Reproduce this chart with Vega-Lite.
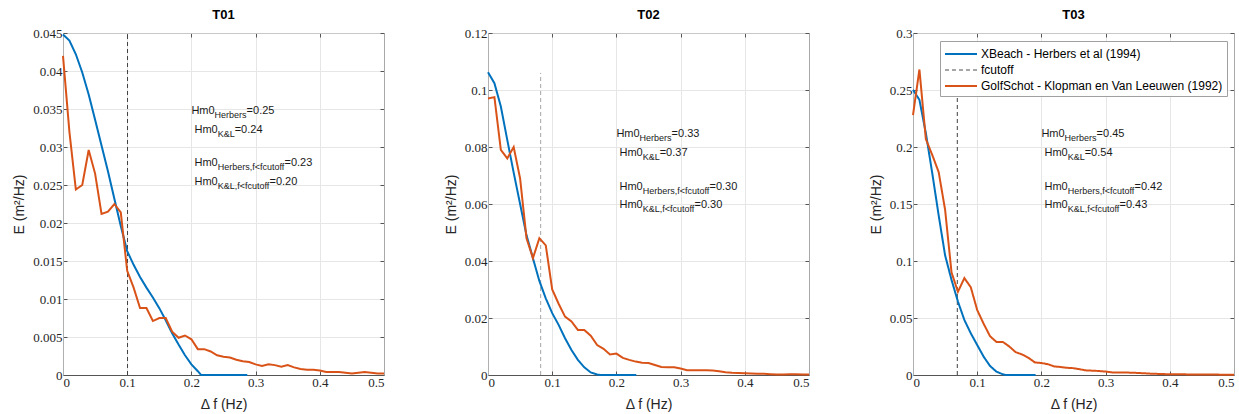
{
  "$schema": "https://vega.github.io/schema/vega-lite/v6.json",
  "padding": {"left": 12, "top": 8, "right": 0, "bottom": 0},
  "background": "#ffffff",
  "spacing": 54,
  "resolve": {"scale": {"color": "independent", "strokeDash": "independent"}},
  "config": {
    "view": {"stroke": "#c8c8c8"},
    "axis": {
      "labelFont": "Liberation Serif", "labelFontSize": 13, "labelColor": "#262626",
      "titleFont": "Liberation Sans", "titleFontSize": 14, "titleFontWeight": "normal", "titleColor": "#262626",
      "gridColor": "#e6e6e6", "gridOpacity": 1, "tickColor": "#555555", "tickSize": -4,
      "labelPadding": 5, "domainColor": "#555555"
    },
    "title": {"font": "Liberation Sans", "fontSize": 13, "fontWeight": "bold", "color": "#000000", "offset": 5},
    "legend": {
      "labelFont": "Liberation Sans", "labelFontSize": 12, "labelColor": "#000000", "labelLimit": 0,
      "symbolType": "M-2,0H2", "symbolStrokeWidth": 2, "fillColor": "#ffffff", "strokeColor": "#a0a0a0",
      "padding": 4, "titlePadding": 0, "symbolOffset": 8, "labelOffset": 11, "rowPadding": 1
    }
  },
  "datasets": {
    "T01_xbeach": [
      {"f": 0, "E": 0.0448}, {"f": 0.01, "E": 0.044}, {"f": 0.02, "E": 0.0422}, {"f": 0.03, "E": 0.0398},
      {"f": 0.04, "E": 0.0369}, {"f": 0.05, "E": 0.0336}, {"f": 0.06, "E": 0.0302}, {"f": 0.07, "E": 0.0268},
      {"f": 0.08, "E": 0.0232}, {"f": 0.09, "E": 0.0196}, {"f": 0.1, "E": 0.0163}, {"f": 0.11, "E": 0.0145},
      {"f": 0.12, "E": 0.0129}, {"f": 0.13, "E": 0.0115}, {"f": 0.14, "E": 0.0102}, {"f": 0.15, "E": 0.0088},
      {"f": 0.16, "E": 0.0072}, {"f": 0.17, "E": 0.0055}, {"f": 0.18, "E": 0.004}, {"f": 0.19, "E": 0.0026},
      {"f": 0.2, "E": 0.0014}, {"f": 0.21, "E": 0.0005}, {"f": 0.215, "E": 0}, {"f": 0.25, "E": 0}, {"f": 0.287, "E": 0}
    ],
    "T01_golf": [
      {"f": 0, "E": 0.042}, {"f": 0.01, "E": 0.032}, {"f": 0.02, "E": 0.0244}, {"f": 0.03, "E": 0.025},
      {"f": 0.04, "E": 0.0296}, {"f": 0.05, "E": 0.0265}, {"f": 0.06, "E": 0.0212}, {"f": 0.07, "E": 0.0215},
      {"f": 0.08, "E": 0.0225}, {"f": 0.09, "E": 0.0214}, {"f": 0.1, "E": 0.0137}, {"f": 0.11, "E": 0.0115},
      {"f": 0.12, "E": 0.0088}, {"f": 0.13, "E": 0.0088}, {"f": 0.14, "E": 0.0071}, {"f": 0.15, "E": 0.0075},
      {"f": 0.16, "E": 0.0075}, {"f": 0.17, "E": 0.0057}, {"f": 0.18, "E": 0.0049}, {"f": 0.19, "E": 0.0052},
      {"f": 0.2, "E": 0.0047}, {"f": 0.21, "E": 0.0034}, {"f": 0.22, "E": 0.0034}, {"f": 0.23, "E": 0.0031},
      {"f": 0.24, "E": 0.0026}, {"f": 0.25, "E": 0.0024}, {"f": 0.26, "E": 0.0023}, {"f": 0.27, "E": 0.002},
      {"f": 0.28, "E": 0.0018}, {"f": 0.29, "E": 0.0017}, {"f": 0.3, "E": 0.0014}, {"f": 0.31, "E": 0.0012},
      {"f": 0.32, "E": 0.0014}, {"f": 0.33, "E": 0.0013}, {"f": 0.34, "E": 0.0011}, {"f": 0.35, "E": 0.0013},
      {"f": 0.36, "E": 0.001}, {"f": 0.37, "E": 0.0008}, {"f": 0.38, "E": 0.0007}, {"f": 0.39, "E": 0.0007},
      {"f": 0.4, "E": 0.0006}, {"f": 0.41, "E": 0.0004}, {"f": 0.42, "E": 0.0004}, {"f": 0.43, "E": 0.0004},
      {"f": 0.44, "E": 0.0003}, {"f": 0.45, "E": 0.0002}, {"f": 0.46, "E": 0.0003}, {"f": 0.47, "E": 0.0004},
      {"f": 0.48, "E": 0.0003}, {"f": 0.49, "E": 0.0002}, {"f": 0.5, "E": 0.0002}
    ],
    "T01_cut": [{"f": 0.1005, "E": 0}, {"f": 0.1005, "E": 0.045}],
    "T02_xbeach": [
      {"f": 0, "E": 0.1062}, {"f": 0.01, "E": 0.1024}, {"f": 0.02, "E": 0.0942}, {"f": 0.03, "E": 0.0825},
      {"f": 0.04, "E": 0.071}, {"f": 0.05, "E": 0.06}, {"f": 0.06, "E": 0.049}, {"f": 0.07, "E": 0.041},
      {"f": 0.08, "E": 0.033}, {"f": 0.09, "E": 0.0269}, {"f": 0.1, "E": 0.0217}, {"f": 0.11, "E": 0.0176},
      {"f": 0.12, "E": 0.0129}, {"f": 0.13, "E": 0.0088}, {"f": 0.14, "E": 0.0053}, {"f": 0.15, "E": 0.0027},
      {"f": 0.16, "E": 0.0009}, {"f": 0.17, "E": 0.0002}, {"f": 0.175, "E": 0}, {"f": 0.231, "E": 0}
    ],
    "T02_golf": [
      {"f": 0, "E": 0.097}, {"f": 0.01, "E": 0.0975}, {"f": 0.02, "E": 0.079}, {"f": 0.03, "E": 0.076},
      {"f": 0.04, "E": 0.08}, {"f": 0.05, "E": 0.069}, {"f": 0.06, "E": 0.048}, {"f": 0.07, "E": 0.041},
      {"f": 0.08, "E": 0.048}, {"f": 0.09, "E": 0.0455}, {"f": 0.1, "E": 0.03}, {"f": 0.11, "E": 0.025},
      {"f": 0.12, "E": 0.0205}, {"f": 0.13, "E": 0.0188}, {"f": 0.14, "E": 0.0158}, {"f": 0.15, "E": 0.0158},
      {"f": 0.16, "E": 0.0138}, {"f": 0.17, "E": 0.0105}, {"f": 0.18, "E": 0.0092}, {"f": 0.19, "E": 0.0072},
      {"f": 0.2, "E": 0.0075}, {"f": 0.21, "E": 0.006}, {"f": 0.22, "E": 0.0053}, {"f": 0.23, "E": 0.0047},
      {"f": 0.24, "E": 0.0043}, {"f": 0.25, "E": 0.0042}, {"f": 0.26, "E": 0.0035}, {"f": 0.27, "E": 0.0028},
      {"f": 0.28, "E": 0.0027}, {"f": 0.29, "E": 0.0027}, {"f": 0.3, "E": 0.0023}, {"f": 0.31, "E": 0.0017},
      {"f": 0.32, "E": 0.0017}, {"f": 0.33, "E": 0.0017}, {"f": 0.34, "E": 0.0017}, {"f": 0.35, "E": 0.0016},
      {"f": 0.36, "E": 0.0013}, {"f": 0.37, "E": 0.001}, {"f": 0.38, "E": 0.0008}, {"f": 0.39, "E": 0.0007},
      {"f": 0.4, "E": 0.0006}, {"f": 0.41, "E": 0.0005}, {"f": 0.42, "E": 0.0004}, {"f": 0.43, "E": 0.0004},
      {"f": 0.44, "E": 0.0003}, {"f": 0.45, "E": 0.0002}, {"f": 0.46, "E": 0.0002}, {"f": 0.47, "E": 0.0003},
      {"f": 0.48, "E": 0.0003}, {"f": 0.49, "E": 0.0002}, {"f": 0.5, "E": 0.0002}
    ],
    "T02_cut": [{"f": 0.082, "E": 0}, {"f": 0.082, "E": 0.106}],
    "T03_xbeach": [
      {"f": 0, "E": 0.2502}, {"f": 0.01, "E": 0.2414}, {"f": 0.02, "E": 0.2122}, {"f": 0.03, "E": 0.177},
      {"f": 0.04, "E": 0.14}, {"f": 0.05, "E": 0.105}, {"f": 0.06, "E": 0.0834}, {"f": 0.07, "E": 0.0644},
      {"f": 0.08, "E": 0.0483}, {"f": 0.09, "E": 0.0366}, {"f": 0.1, "E": 0.0263}, {"f": 0.11, "E": 0.0161},
      {"f": 0.12, "E": 0.0079}, {"f": 0.13, "E": 0.0029}, {"f": 0.14, "E": 0.0006}, {"f": 0.145, "E": 0}, {"f": 0.191, "E": 0}
    ],
    "T03_golf": [
      {"f": 0, "E": 0.228}, {"f": 0.01, "E": 0.268}, {"f": 0.02, "E": 0.207}, {"f": 0.03, "E": 0.193},
      {"f": 0.04, "E": 0.178}, {"f": 0.05, "E": 0.145}, {"f": 0.06, "E": 0.09}, {"f": 0.07, "E": 0.073},
      {"f": 0.08, "E": 0.085}, {"f": 0.09, "E": 0.077}, {"f": 0.1, "E": 0.057}, {"f": 0.11, "E": 0.045},
      {"f": 0.12, "E": 0.034}, {"f": 0.13, "E": 0.029}, {"f": 0.14, "E": 0.029}, {"f": 0.15, "E": 0.025},
      {"f": 0.16, "E": 0.02}, {"f": 0.17, "E": 0.018}, {"f": 0.18, "E": 0.015}, {"f": 0.19, "E": 0.011},
      {"f": 0.2, "E": 0.0105}, {"f": 0.21, "E": 0.0095}, {"f": 0.22, "E": 0.0075}, {"f": 0.23, "E": 0.007},
      {"f": 0.24, "E": 0.0063}, {"f": 0.25, "E": 0.006}, {"f": 0.26, "E": 0.005}, {"f": 0.27, "E": 0.004},
      {"f": 0.28, "E": 0.0038}, {"f": 0.29, "E": 0.0035}, {"f": 0.3, "E": 0.003}, {"f": 0.31, "E": 0.0023},
      {"f": 0.32, "E": 0.0022}, {"f": 0.33, "E": 0.0022}, {"f": 0.34, "E": 0.002}, {"f": 0.35, "E": 0.0018},
      {"f": 0.36, "E": 0.0015}, {"f": 0.37, "E": 0.0012}, {"f": 0.38, "E": 0.001}, {"f": 0.39, "E": 0.0008},
      {"f": 0.4, "E": 0.0007}, {"f": 0.41, "E": 0.0006}, {"f": 0.42, "E": 0.0006}, {"f": 0.43, "E": 0.0005},
      {"f": 0.44, "E": 0.0005}, {"f": 0.45, "E": 0.0004}, {"f": 0.46, "E": 0.0004}, {"f": 0.47, "E": 0.0004},
      {"f": 0.48, "E": 0.0003}, {"f": 0.49, "E": 0.0003}, {"f": 0.5, "E": 0.0003}
    ],
    "T03_cut": [{"f": 0.069, "E": 0}, {"f": 0.069, "E": 0.268}],
    "ann": [
      {"panel": "T01", "line": 1, "x": 0.2, "y": 0.0343, "main": "Hm0", "sub": "Herbers", "val": "=0.25"},
      {"panel": "T01", "line": 2, "x": 0.2, "y": 0.0318, "main": "Hm0", "sub": "K&L", "val": "=0.24"},
      {"panel": "T01", "line": 3, "x": 0.2, "y": 0.0275, "main": "Hm0", "sub": "Herbers,f<fcutoff", "val": "=0.23"},
      {"panel": "T01", "line": 4, "x": 0.2, "y": 0.025, "main": "Hm0", "sub": "K&L,f<fcutoff", "val": "=0.20"},
      {"panel": "T02", "line": 1, "x": 0.2, "y": 0.0834, "main": "Hm0", "sub": "Herbers", "val": "=0.33"},
      {"panel": "T02", "line": 2, "x": 0.2, "y": 0.0767, "main": "Hm0", "sub": "K&L", "val": "=0.37"},
      {"panel": "T02", "line": 3, "x": 0.2, "y": 0.065, "main": "Hm0", "sub": "Herbers,f<fcutoff", "val": "=0.30"},
      {"panel": "T02", "line": 4, "x": 0.2, "y": 0.0585, "main": "Hm0", "sub": "K&L,f<fcutoff", "val": "=0.30"},
      {"panel": "T03", "line": 1, "x": 0.2, "y": 0.2085, "main": "Hm0", "sub": "Herbers", "val": "=0.45"},
      {"panel": "T03", "line": 2, "x": 0.2, "y": 0.1918, "main": "Hm0", "sub": "K&L", "val": "=0.54"},
      {"panel": "T03", "line": 3, "x": 0.2, "y": 0.1625, "main": "Hm0", "sub": "Herbers,f<fcutoff", "val": "=0.42"},
      {"panel": "T03", "line": 4, "x": 0.2, "y": 0.1462, "main": "Hm0", "sub": "K&L,f<fcutoff", "val": "=0.43"}
    ]
  },
  "hconcat": [
    {
      "width": 321, "height": 342,
      "title": "T01",
      "layer": [
        {"data": {"name": "T01_cut"}, "mark": {"type": "line", "color": "#404040", "strokeWidth": 1, "strokeDash": [4, 3]},
         "encoding": {
           "x": {"field": "f", "type": "quantitative", "scale": {"domain": [0, 0.5], "nice": false}, "axis": {"orient": "bottom", "values": [0, 0.1, 0.2, 0.3, 0.4, 0.5], "format": ".2~g", "title": "Δ f (Hz)", "grid": true, "titlePadding": 8}},
           "y": {"field": "E", "type": "quantitative", "scale": {"domain": [0, 0.045], "nice": false}, "axis": {"orient": "left", "values": [0, 0.005, 0.01, 0.015, 0.02, 0.025, 0.03, 0.035, 0.04, 0.045], "format": ".2~g", "title": "E (m²/Hz)", "grid": true, "domainColor": "#b0b0b0", "titlePadding": 6}}
         }},
        {"data": {"name": "T01_xbeach"}, "mark": {"type": "line", "color": "#0072BD", "strokeWidth": 2},
         "encoding": {
           "x": {"field": "f", "type": "quantitative", "axis": {"orient": "top", "values": [0, 0.1, 0.2, 0.3, 0.4, 0.5], "labels": false, "title": null, "grid": false, "domainColor": "#c8c8c8"}},
           "y": {"field": "E", "type": "quantitative", "axis": {"orient": "right", "values": [0, 0.005, 0.01, 0.015, 0.02, 0.025, 0.03, 0.035, 0.04, 0.045], "labels": false, "title": null, "grid": false, "domainColor": "#a8a8a8"}}
         }},
        {"data": {"name": "T01_golf"}, "mark": {"type": "line", "color": "#D95319", "strokeWidth": 2},
         "encoding": {"x": {"field": "f", "type": "quantitative", "axis": null}, "y": {"field": "E", "type": "quantitative", "axis": null}}},
        {"data": {"name": "ann"}, "transform": [{"filter": "datum.panel === 'T01' && datum.line === 1"}],
         "mark": {"type": "text", "align": "left", "baseline": "alphabetic", "font": "Liberation Sans", "fontSize": 11, "color": "#1a1a1a"},
         "encoding": {"x": {"field": "x", "type": "quantitative", "axis": null}, "y": {"field": "y", "type": "quantitative", "axis": null}, "text": {"field": "main"}}},
        {"data": {"name": "ann"}, "transform": [{"filter": "datum.panel === 'T01' && datum.line > 1"}],
         "mark": {"type": "text", "align": "left", "baseline": "alphabetic", "font": "Liberation Sans", "fontSize": 11, "color": "#1a1a1a", "dx": 3.1},
         "encoding": {"x": {"field": "x", "type": "quantitative", "axis": null}, "y": {"field": "y", "type": "quantitative", "axis": null}, "text": {"field": "main"}}},
        {"data": {"name": "ann"}, "transform": [{"filter": "datum.panel === 'T01' && datum.line === 1"}],
         "mark": {"type": "text", "align": "left", "baseline": "alphabetic", "font": "Liberation Sans", "fontSize": 9, "color": "#1a1a1a", "dx": 23.2, "dy": 4},
         "encoding": {"x": {"field": "x", "type": "quantitative", "axis": null}, "y": {"field": "y", "type": "quantitative", "axis": null}, "text": {"field": "sub"}}},
        {"data": {"name": "ann"}, "transform": [{"filter": "datum.panel === 'T01' && datum.line > 1"}],
         "mark": {"type": "text", "align": "left", "baseline": "alphabetic", "font": "Liberation Sans", "fontSize": 9, "color": "#1a1a1a", "dx": 26.3, "dy": 4},
         "encoding": {"x": {"field": "x", "type": "quantitative", "axis": null}, "y": {"field": "y", "type": "quantitative", "axis": null}, "text": {"field": "sub"}}},
        {"data": {"name": "ann"}, "transform": [{"filter": "datum.panel === 'T01' && datum.line === 1"}],
         "mark": {"type": "text", "align": "left", "baseline": "alphabetic", "font": "Liberation Sans", "fontSize": 11, "color": "#1a1a1a", "dx": 55.2},
         "encoding": {"x": {"field": "x", "type": "quantitative", "axis": null}, "y": {"field": "y", "type": "quantitative", "axis": null}, "text": {"field": "val"}}},
        {"data": {"name": "ann"}, "transform": [{"filter": "datum.panel === 'T01' && datum.line === 2"}],
         "mark": {"type": "text", "align": "left", "baseline": "alphabetic", "font": "Liberation Sans", "fontSize": 11, "color": "#1a1a1a", "dx": 43.3},
         "encoding": {"x": {"field": "x", "type": "quantitative", "axis": null}, "y": {"field": "y", "type": "quantitative", "axis": null}, "text": {"field": "val"}}},
        {"data": {"name": "ann"}, "transform": [{"filter": "datum.panel === 'T01' && datum.line === 3"}],
         "mark": {"type": "text", "align": "left", "baseline": "alphabetic", "font": "Liberation Sans", "fontSize": 11, "color": "#1a1a1a", "dx": 93.1},
         "encoding": {"x": {"field": "x", "type": "quantitative", "axis": null}, "y": {"field": "y", "type": "quantitative", "axis": null}, "text": {"field": "val"}}},
        {"data": {"name": "ann"}, "transform": [{"filter": "datum.panel === 'T01' && datum.line === 4"}],
         "mark": {"type": "text", "align": "left", "baseline": "alphabetic", "font": "Liberation Sans", "fontSize": 11, "color": "#1a1a1a", "dx": 78.1},
         "encoding": {"x": {"field": "x", "type": "quantitative", "axis": null}, "y": {"field": "y", "type": "quantitative", "axis": null}, "text": {"field": "val"}}}
      ]
    },
    {
      "width": 321, "height": 342,
      "title": "T02",
      "layer": [
        {"data": {"name": "T02_cut"}, "mark": {"type": "line", "color": "#a6a6a6", "strokeWidth": 1, "strokeDash": [4, 3]},
         "encoding": {
           "x": {"field": "f", "type": "quantitative", "scale": {"domain": [0, 0.5], "nice": false}, "axis": {"orient": "bottom", "values": [0, 0.1, 0.2, 0.3, 0.4, 0.5], "format": ".2~g", "title": "Δ f (Hz)", "grid": true, "titlePadding": 8}},
           "y": {"field": "E", "type": "quantitative", "scale": {"domain": [0, 0.12], "nice": false}, "axis": {"orient": "left", "values": [0, 0.02, 0.04, 0.06, 0.08, 0.1, 0.12], "format": ".2~g", "title": "E (m²/Hz)", "grid": true, "domainColor": "#b0b0b0", "titlePadding": 6}}
         }},
        {"data": {"name": "T02_xbeach"}, "mark": {"type": "line", "color": "#0072BD", "strokeWidth": 2},
         "encoding": {
           "x": {"field": "f", "type": "quantitative", "axis": {"orient": "top", "values": [0, 0.1, 0.2, 0.3, 0.4, 0.5], "labels": false, "title": null, "grid": false, "domainColor": "#c8c8c8"}},
           "y": {"field": "E", "type": "quantitative", "axis": {"orient": "right", "values": [0, 0.02, 0.04, 0.06, 0.08, 0.1, 0.12], "labels": false, "title": null, "grid": false, "domainColor": "#a8a8a8"}}
         }},
        {"data": {"name": "T02_golf"}, "mark": {"type": "line", "color": "#D95319", "strokeWidth": 2},
         "encoding": {"x": {"field": "f", "type": "quantitative", "axis": null}, "y": {"field": "E", "type": "quantitative", "axis": null}}},
        {"data": {"name": "ann"}, "transform": [{"filter": "datum.panel === 'T02' && datum.line === 1"}],
         "mark": {"type": "text", "align": "left", "baseline": "alphabetic", "font": "Liberation Sans", "fontSize": 11, "color": "#1a1a1a"},
         "encoding": {"x": {"field": "x", "type": "quantitative", "axis": null}, "y": {"field": "y", "type": "quantitative", "axis": null}, "text": {"field": "main"}}},
        {"data": {"name": "ann"}, "transform": [{"filter": "datum.panel === 'T02' && datum.line > 1"}],
         "mark": {"type": "text", "align": "left", "baseline": "alphabetic", "font": "Liberation Sans", "fontSize": 11, "color": "#1a1a1a", "dx": 3.1},
         "encoding": {"x": {"field": "x", "type": "quantitative", "axis": null}, "y": {"field": "y", "type": "quantitative", "axis": null}, "text": {"field": "main"}}},
        {"data": {"name": "ann"}, "transform": [{"filter": "datum.panel === 'T02' && datum.line === 1"}],
         "mark": {"type": "text", "align": "left", "baseline": "alphabetic", "font": "Liberation Sans", "fontSize": 9, "color": "#1a1a1a", "dx": 23.2, "dy": 4},
         "encoding": {"x": {"field": "x", "type": "quantitative", "axis": null}, "y": {"field": "y", "type": "quantitative", "axis": null}, "text": {"field": "sub"}}},
        {"data": {"name": "ann"}, "transform": [{"filter": "datum.panel === 'T02' && datum.line > 1"}],
         "mark": {"type": "text", "align": "left", "baseline": "alphabetic", "font": "Liberation Sans", "fontSize": 9, "color": "#1a1a1a", "dx": 26.3, "dy": 4},
         "encoding": {"x": {"field": "x", "type": "quantitative", "axis": null}, "y": {"field": "y", "type": "quantitative", "axis": null}, "text": {"field": "sub"}}},
        {"data": {"name": "ann"}, "transform": [{"filter": "datum.panel === 'T02' && datum.line === 1"}],
         "mark": {"type": "text", "align": "left", "baseline": "alphabetic", "font": "Liberation Sans", "fontSize": 11, "color": "#1a1a1a", "dx": 55.2},
         "encoding": {"x": {"field": "x", "type": "quantitative", "axis": null}, "y": {"field": "y", "type": "quantitative", "axis": null}, "text": {"field": "val"}}},
        {"data": {"name": "ann"}, "transform": [{"filter": "datum.panel === 'T02' && datum.line === 2"}],
         "mark": {"type": "text", "align": "left", "baseline": "alphabetic", "font": "Liberation Sans", "fontSize": 11, "color": "#1a1a1a", "dx": 43.3},
         "encoding": {"x": {"field": "x", "type": "quantitative", "axis": null}, "y": {"field": "y", "type": "quantitative", "axis": null}, "text": {"field": "val"}}},
        {"data": {"name": "ann"}, "transform": [{"filter": "datum.panel === 'T02' && datum.line === 3"}],
         "mark": {"type": "text", "align": "left", "baseline": "alphabetic", "font": "Liberation Sans", "fontSize": 11, "color": "#1a1a1a", "dx": 93.1},
         "encoding": {"x": {"field": "x", "type": "quantitative", "axis": null}, "y": {"field": "y", "type": "quantitative", "axis": null}, "text": {"field": "val"}}},
        {"data": {"name": "ann"}, "transform": [{"filter": "datum.panel === 'T02' && datum.line === 4"}],
         "mark": {"type": "text", "align": "left", "baseline": "alphabetic", "font": "Liberation Sans", "fontSize": 11, "color": "#1a1a1a", "dx": 78.1},
         "encoding": {"x": {"field": "x", "type": "quantitative", "axis": null}, "y": {"field": "y", "type": "quantitative", "axis": null}, "text": {"field": "val"}}}
      ]
    },
    {
      "width": 321, "height": 342,
      "title": "T03",
      "layer": [
        {"data": {"name": "T03_cut"}, "mark": {"type": "line", "color": "#404040", "strokeWidth": 1, "strokeDash": [4, 3]},
         "encoding": {
           "x": {"field": "f", "type": "quantitative", "scale": {"domain": [0, 0.5], "nice": false}, "axis": {"orient": "bottom", "values": [0, 0.1, 0.2, 0.3, 0.4, 0.5], "format": ".2~g", "title": "Δ f (Hz)", "grid": true, "titlePadding": 8}},
           "y": {"field": "E", "type": "quantitative", "scale": {"domain": [0, 0.3], "nice": false}, "axis": {"orient": "left", "values": [0, 0.05, 0.1, 0.15, 0.2, 0.25, 0.3], "format": ".2~g", "title": "E (m²/Hz)", "grid": true, "domainColor": "#b0b0b0", "titlePadding": 6}}
         }},
        {"data": {"name": "T03_xbeach"}, "mark": {"type": "line", "strokeWidth": 2},
         "encoding": {
           "x": {"field": "f", "type": "quantitative", "axis": {"orient": "top", "values": [0, 0.1, 0.2, 0.3, 0.4, 0.5], "labels": false, "title": null, "grid": false, "domainColor": "#c8c8c8"}},
           "y": {"field": "E", "type": "quantitative", "axis": {"orient": "right", "values": [0, 0.05, 0.1, 0.15, 0.2, 0.25, 0.3], "labels": false, "title": null, "grid": false, "domainColor": "#a8a8a8"}},
           "color": {"datum": "XBeach - Herbers et al (1994)", "type": "nominal",
             "scale": {"domain": ["XBeach - Herbers et al (1994)", "fcutoff", "GolfSchot - Klopman en Van Leeuwen (1992)"], "range": ["#0072BD", "#a6a6a6", "#D95319"]},
             "legend": {"orient": "none", "legendX": 27, "legendY": 8, "title": null, "symbolSize": 256}},
           "strokeDash": {"datum": "XBeach - Herbers et al (1994)", "type": "nominal",
             "scale": {"domain": ["XBeach - Herbers et al (1994)", "fcutoff", "GolfSchot - Klopman en Van Leeuwen (1992)"], "range": [[1, 0], [4, 3], [1, 0]]},
             "legend": {"orient": "none", "legendX": 27, "legendY": 8, "title": null, "symbolSize": 256}}
         }},
        {"data": {"name": "T03_golf"}, "mark": {"type": "line", "strokeWidth": 2},
         "encoding": {"x": {"field": "f", "type": "quantitative", "axis": null}, "y": {"field": "E", "type": "quantitative", "axis": null},
           "color": {"datum": "GolfSchot - Klopman en Van Leeuwen (1992)", "type": "nominal"},
           "strokeDash": {"datum": "GolfSchot - Klopman en Van Leeuwen (1992)", "type": "nominal"}}},
        {"data": {"name": "ann"}, "transform": [{"filter": "datum.panel === 'T03' && datum.line === 1"}],
         "mark": {"type": "text", "align": "left", "baseline": "alphabetic", "font": "Liberation Sans", "fontSize": 11, "color": "#1a1a1a"},
         "encoding": {"x": {"field": "x", "type": "quantitative", "axis": null}, "y": {"field": "y", "type": "quantitative", "axis": null}, "text": {"field": "main"}}},
        {"data": {"name": "ann"}, "transform": [{"filter": "datum.panel === 'T03' && datum.line > 1"}],
         "mark": {"type": "text", "align": "left", "baseline": "alphabetic", "font": "Liberation Sans", "fontSize": 11, "color": "#1a1a1a", "dx": 3.1},
         "encoding": {"x": {"field": "x", "type": "quantitative", "axis": null}, "y": {"field": "y", "type": "quantitative", "axis": null}, "text": {"field": "main"}}},
        {"data": {"name": "ann"}, "transform": [{"filter": "datum.panel === 'T03' && datum.line === 1"}],
         "mark": {"type": "text", "align": "left", "baseline": "alphabetic", "font": "Liberation Sans", "fontSize": 9, "color": "#1a1a1a", "dx": 23.2, "dy": 4},
         "encoding": {"x": {"field": "x", "type": "quantitative", "axis": null}, "y": {"field": "y", "type": "quantitative", "axis": null}, "text": {"field": "sub"}}},
        {"data": {"name": "ann"}, "transform": [{"filter": "datum.panel === 'T03' && datum.line > 1"}],
         "mark": {"type": "text", "align": "left", "baseline": "alphabetic", "font": "Liberation Sans", "fontSize": 9, "color": "#1a1a1a", "dx": 26.3, "dy": 4},
         "encoding": {"x": {"field": "x", "type": "quantitative", "axis": null}, "y": {"field": "y", "type": "quantitative", "axis": null}, "text": {"field": "sub"}}},
        {"data": {"name": "ann"}, "transform": [{"filter": "datum.panel === 'T03' && datum.line === 1"}],
         "mark": {"type": "text", "align": "left", "baseline": "alphabetic", "font": "Liberation Sans", "fontSize": 11, "color": "#1a1a1a", "dx": 55.2},
         "encoding": {"x": {"field": "x", "type": "quantitative", "axis": null}, "y": {"field": "y", "type": "quantitative", "axis": null}, "text": {"field": "val"}}},
        {"data": {"name": "ann"}, "transform": [{"filter": "datum.panel === 'T03' && datum.line === 2"}],
         "mark": {"type": "text", "align": "left", "baseline": "alphabetic", "font": "Liberation Sans", "fontSize": 11, "color": "#1a1a1a", "dx": 43.3},
         "encoding": {"x": {"field": "x", "type": "quantitative", "axis": null}, "y": {"field": "y", "type": "quantitative", "axis": null}, "text": {"field": "val"}}},
        {"data": {"name": "ann"}, "transform": [{"filter": "datum.panel === 'T03' && datum.line === 3"}],
         "mark": {"type": "text", "align": "left", "baseline": "alphabetic", "font": "Liberation Sans", "fontSize": 11, "color": "#1a1a1a", "dx": 93.1},
         "encoding": {"x": {"field": "x", "type": "quantitative", "axis": null}, "y": {"field": "y", "type": "quantitative", "axis": null}, "text": {"field": "val"}}},
        {"data": {"name": "ann"}, "transform": [{"filter": "datum.panel === 'T03' && datum.line === 4"}],
         "mark": {"type": "text", "align": "left", "baseline": "alphabetic", "font": "Liberation Sans", "fontSize": 11, "color": "#1a1a1a", "dx": 78.1},
         "encoding": {"x": {"field": "x", "type": "quantitative", "axis": null}, "y": {"field": "y", "type": "quantitative", "axis": null}, "text": {"field": "val"}}}
      ]
    }
  ]
}
